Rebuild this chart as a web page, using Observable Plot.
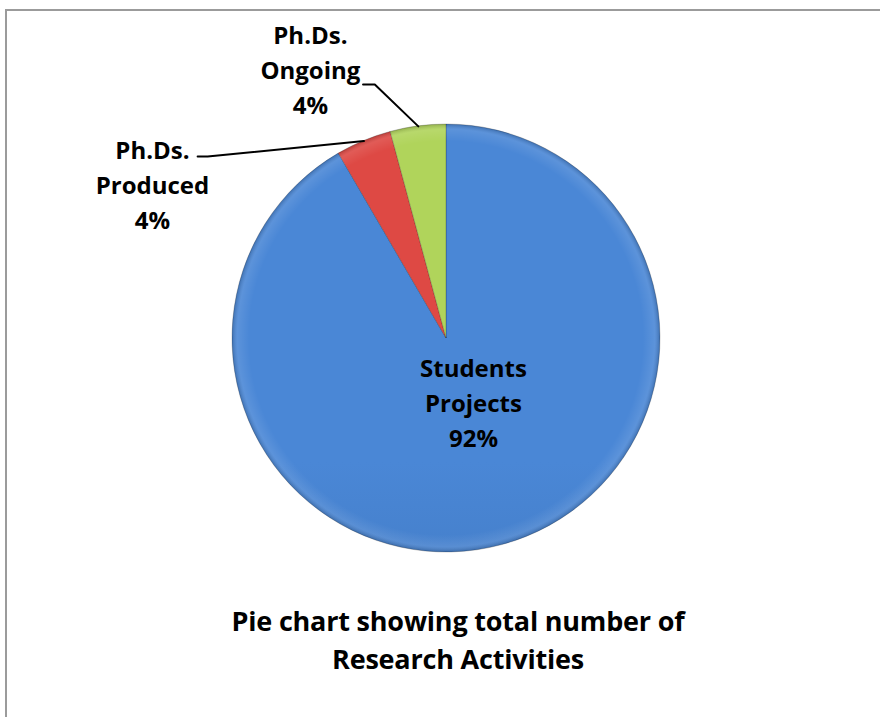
<!DOCTYPE html>
<html><head><meta charset="utf-8">
<script src="https://cdn.jsdelivr.net/npm/d3@7"></script>
<script src="https://cdn.jsdelivr.net/npm/@observablehq/plot@0.6"></script>
<style>
body{margin:0;background:#fff;width:880px;height:717px;overflow:hidden;position:relative;font-family:"Open Sans",Lato,sans-serif;}
#frame{position:absolute;left:5px;top:9px;width:900px;height:760px;border:2px solid #9b9b9b;box-sizing:border-box;}
#chart{position:absolute;left:0;top:0;}
#title{position:absolute;left:0;top:602px;width:916px;text-align:center;font-weight:bold;font-size:27px;line-height:38px;color:#000;letter-spacing:-0.2px;}
</style>
</head><body>
<div id="frame"></div>
<div id="chart"></div>
<div id="title"></div>
<script>
// ---- data ----
const categories = ["Students Projects", "Ph.Ds. Produced", "Ph.Ds. Ongoing"];
const labelNames = ["Students\nProjects", "Ph.Ds.\nProduced", "Ph.Ds.\nOngoing"];
const values = [91.6, 4.2, 4.2];
const titleLines = ["Pie chart showing total number of", "Research Activities"];

// ---- layout / style (not data) ----
const gradients = [
  ["#4a87d6", "#4078c0", "#3563a4"],
  ["#de4944", "#c73f3b", "#a8322e"],
  ["#b0d45b", "#9cc24d", "#85a73e"]
];
// label block centres in pie units (radius = 1)
const labelAnchors = [[0.126, -0.29], [-1.374, 0.729], [-0.636, 1.267]];
// leader-line elbows (pie units)
const leaderElbows = [null, [[-1.116, 0.850], [-1.163, 0.850]], [[-0.335, 1.187], [-0.39, 1.187]]];

const total = d3.sum(values);
const arcs = d3.pie().sort(null).value(d => d)(values);

const labels = categories.map((c, i) => ({
  cat: c,
  x: labelAnchors[i][0],
  y: labelAnchors[i][1],
  text: labelNames[i] + "\n" + Math.round(values[i] / total * 100) + "%"
}));

const leaders = [];
arcs.forEach((a, i) => {
  if (!leaderElbows[i]) return;
  const mid = (a.startAngle + a.endAngle) / 2;
  leaders.push({cat: categories[i], x: Math.sin(mid), y: Math.cos(mid)});
  leaderElbows[i].forEach(p => leaders.push({cat: categories[i], x: p[0], y: p[1]}));
});

function pieMark(index, scales) {
  const cx = scales.x(0), cy = scales.y(0);
  const R = scales.x(1) - scales.x(0);
  const g = d3.create("svg:g");
  const defs = g.append("defs");
  gradients.forEach((stops, i) => {
    const lg = defs.append("linearGradient").attr("id", "grad" + i)
      .attr("gradientUnits", "userSpaceOnUse")
      .attr("x1", cx).attr("x2", cx).attr("y1", cy - R).attr("y2", cy + R);
    stops.forEach((s, k) => lg.append("stop").attr("offset", k / (stops.length - 1)).attr("stop-color", s));
  });
  const rg = defs.append("radialGradient").attr("id", "shine")
    .attr("gradientUnits", "userSpaceOnUse").attr("cx", cx).attr("cy", cy).attr("r", R);
  rg.append("stop").attr("offset", 0.92).attr("stop-color", "#fff").attr("stop-opacity", 0);
  rg.append("stop").attr("offset", 0.975).attr("stop-color", "#fff").attr("stop-opacity", 0.1);
  rg.append("stop").attr("offset", 1).attr("stop-color", "#000").attr("stop-opacity", 0.18);
  const arc = d3.arc().innerRadius(0).outerRadius(R);
  g.append("g").selectAll("path").data(arcs).join("path")
    .attr("d", d => arc(d))
    .attr("transform", `translate(${cx},${cy})`)
    .attr("fill", (d, i) => `url(#grad${i})`)
    .attr("stroke", "rgba(0,0,0,0.2)").attr("stroke-width", 1);
  g.append("circle").attr("cx", cx).attr("cy", cy).attr("r", R).attr("fill", "url(#shine)");
  return g.node();
}

const plot = Plot.plot({
  width: 880,
  height: 590,
  marginLeft: 232,
  marginRight: 220,
  marginTop: 124,
  marginBottom: 38,
  x: {domain: [-1, 1], axis: null},
  y: {domain: [-1, 1], axis: null},
  style: {background: "transparent", overflow: "visible"},
  marks: [
    pieMark,
    Plot.line(leaders, {x: "x", y: "y", z: "cat", stroke: "#000", strokeWidth: 2}),
    Plot.text(labels, {x: "x", y: "y", text: "text", fontSize: 24, fontWeight: "bold",
      lineHeight: 1.46, fill: "#000", fontFamily: "'Open Sans', Lato, sans-serif"})
  ]
});
document.getElementById("chart").appendChild(plot);
document.getElementById("title").innerHTML = titleLines.join("<br>");
</script>
</body></html>
